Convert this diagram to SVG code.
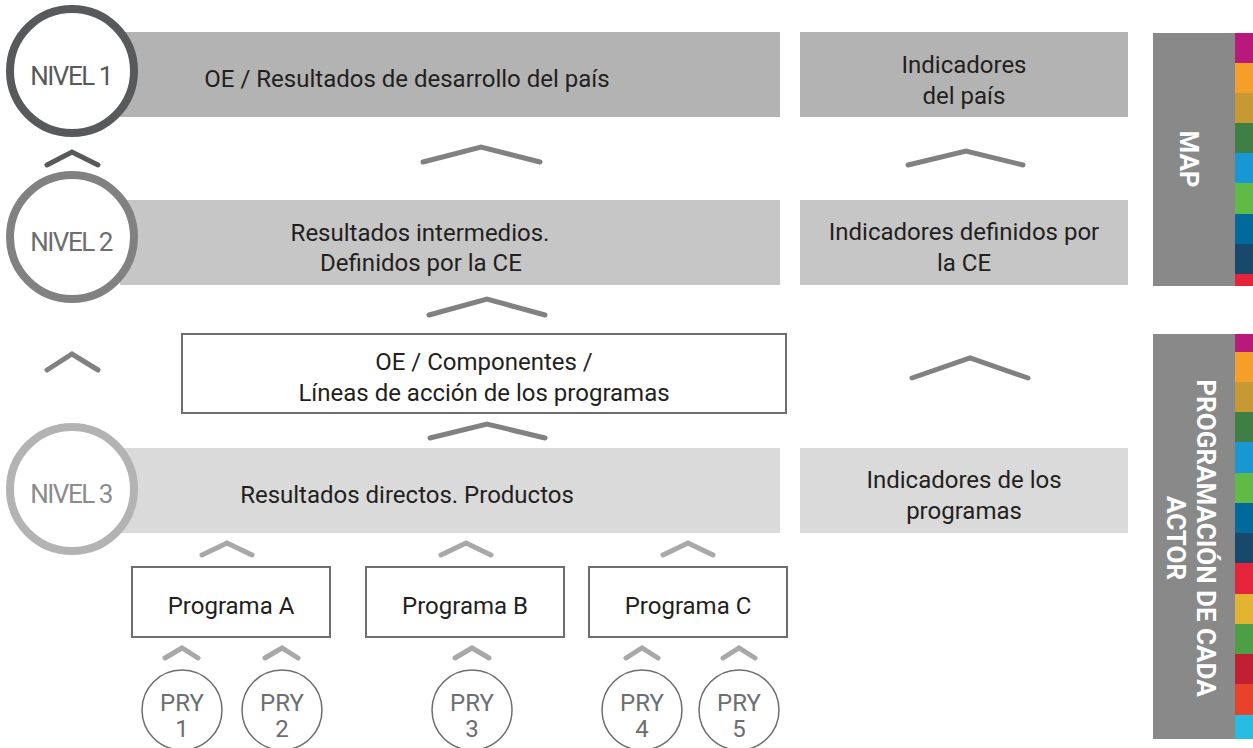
<svg xmlns="http://www.w3.org/2000/svg" width="1253" height="748" viewBox="0 0 1253 748">
<style>
.t{font-family:Roboto,"Liberation Sans",sans-serif;font-size:24px;fill:#231f20;text-anchor:middle}
.nv{font-family:Roboto,"Liberation Sans",sans-serif;font-size:26px;text-anchor:middle;letter-spacing:-1.5px}
.pry{font-family:Roboto,"Liberation Sans",sans-serif;font-size:24px;fill:#6d6e71;text-anchor:middle}
.side{font-family:Roboto,"Liberation Sans",sans-serif;font-weight:bold;font-size:26px;fill:#ffffff;text-anchor:middle}
.box{fill:#ffffff;stroke:#6d6e6d;stroke-width:2}
.pc{fill:#ffffff;stroke:#6d6e71;stroke-width:1.5}
.ch{fill:none;stroke-linecap:round;stroke-linejoin:miter;stroke-width:5}
.c1{stroke:#58595b}
.c2{stroke:#808180}
.c3{stroke:#a7a8a7}
</style>

<g id="level1">
  <rect x="120" y="32" width="660" height="85" fill="#b3b3b3"/>
  <text class="t" x="407" y="87">OE / Resultados de desarrollo del país</text>
</g>
<g id="ind1">
  <rect x="800" y="32" width="328" height="85" fill="#b3b3b3"/>
  <text class="t" x="964" y="73">Indicadores</text>
  <text class="t" x="964" y="104">del país</text>
</g>
<g id="level2">
  <rect x="120" y="200" width="660" height="85" fill="#c6c6c6"/>
  <text class="t" x="420" y="241">Resultados intermedios.</text>
  <text class="t" x="421" y="271">Definidos por la CE</text>
</g>
<g id="ind2">
  <rect x="800" y="200" width="328" height="85" fill="#c6c6c6"/>
  <text class="t" x="964" y="240">Indicadores definidos por</text>
  <text class="t" x="964" y="271">la CE</text>
</g>
<g id="componentes">
  <rect class="box" x="182" y="334" width="604" height="79"/>
  <text class="t" x="484" y="370">OE / Componentes /</text>
  <text class="t" x="484" y="401">Líneas de acción de los programas</text>
</g>
<g id="level3">
  <rect x="120" y="448" width="660" height="85" fill="#d9dad9"/>
  <text class="t" x="407" y="503">Resultados directos. Productos</text>
</g>
<g id="ind3">
  <rect x="800" y="448" width="328" height="85" fill="#d9dad9"/>
  <text class="t" x="964" y="488">Indicadores de los</text>
  <text class="t" x="964" y="519">programas</text>
</g>

<g id="nivel1">
  <circle cx="72" cy="71" r="62" fill="#ffffff" stroke="#58595b" stroke-width="8"/>
  <text class="nv" x="71" y="85" fill="#58595b">NIVEL 1</text>
</g>
<g id="nivel2">
  <circle cx="72" cy="237" r="62" fill="#ffffff" stroke="#808180" stroke-width="8"/>
  <text class="nv" x="71" y="251" fill="#6d6e6d">NIVEL 2</text>
</g>
<g id="nivel3">
  <circle cx="72" cy="489" r="62" fill="#ffffff" stroke="#b3b3b3" stroke-width="8"/>
  <text class="nv" x="71" y="503" fill="#8c8c8c">NIVEL 3</text>
</g>

<g id="progA">
  <rect class="box" x="132" y="567" width="198" height="70"/>
  <text class="t" x="231" y="614">Programa A</text>
</g>
<g id="progB">
  <rect class="box" x="366" y="567" width="198" height="70"/>
  <text class="t" x="465" y="614">Programa B</text>
</g>
<g id="progC">
  <rect class="box" x="589" y="567" width="198" height="70"/>
  <text class="t" x="688" y="614">Programa C</text>
</g>

<g id="pry1">
  <circle class="pc" cx="182" cy="710" r="40"/>
  <text class="pry" x="182" y="711">PRY</text>
  <text class="pry" x="182" y="737">1</text>
</g>
<g id="pry2">
  <circle class="pc" cx="282" cy="710" r="40"/>
  <text class="pry" x="282" y="711">PRY</text>
  <text class="pry" x="282" y="737">2</text>
</g>
<g id="pry3">
  <circle class="pc" cx="472" cy="710" r="40"/>
  <text class="pry" x="472" y="711">PRY</text>
  <text class="pry" x="472" y="737">3</text>
</g>
<g id="pry4">
  <circle class="pc" cx="642" cy="710" r="40"/>
  <text class="pry" x="642" y="711">PRY</text>
  <text class="pry" x="642" y="737">4</text>
</g>
<g id="pry5">
  <circle class="pc" cx="739" cy="710" r="40"/>
  <text class="pry" x="739" y="711">PRY</text>
  <text class="pry" x="739" y="737">5</text>
</g>

<g id="map">
  <rect x="1153" y="33" width="82" height="253" fill="#898989"/>
  <text class="side" transform="translate(1180,159) rotate(90)">MAP</text>
  <rect x="1235" y="33" width="18" height="30" fill="#b8197a"/>
  <rect x="1235" y="63" width="18" height="30" fill="#f59e2a"/>
  <rect x="1235" y="93" width="18" height="30" fill="#c69932"/>
  <rect x="1235" y="123" width="18" height="30" fill="#3f7e44"/>
  <rect x="1235" y="153" width="18" height="30" fill="#1798d4"/>
  <rect x="1235" y="183" width="18" height="31" fill="#5fba46"/>
  <rect x="1235" y="214" width="18" height="30" fill="#02699c"/>
  <rect x="1235" y="244" width="18" height="30" fill="#18486b"/>
  <rect x="1235" y="274" width="18" height="12" fill="#e5243b"/>
</g>

<g id="programacion">
  <rect x="1153" y="334" width="82" height="405" fill="#898989"/>
  <text class="side" transform="translate(1197,538) rotate(90)">PROGRAMACIÓN DE CADA</text>
  <text class="side" transform="translate(1167,538) rotate(90)">ACTOR</text>
  <rect x="1235" y="334" width="18" height="18" fill="#b8197a"/>
  <rect x="1235" y="352" width="18" height="30" fill="#f59e2a"/>
  <rect x="1235" y="382" width="18" height="30" fill="#c69932"/>
  <rect x="1235" y="412" width="18" height="30" fill="#3f7e44"/>
  <rect x="1235" y="442" width="18" height="31" fill="#1798d4"/>
  <rect x="1235" y="473" width="18" height="30" fill="#5fba46"/>
  <rect x="1235" y="503" width="18" height="30" fill="#02699c"/>
  <rect x="1235" y="533" width="18" height="30" fill="#18486b"/>
  <rect x="1235" y="563" width="18" height="31" fill="#e5243b"/>
  <rect x="1235" y="594" width="18" height="30" fill="#e3b431"/>
  <rect x="1235" y="624" width="18" height="30" fill="#4c9f45"/>
  <rect x="1235" y="654" width="18" height="30" fill="#c21f32"/>
  <rect x="1235" y="684" width="18" height="31" fill="#ea422a"/>
  <rect x="1235" y="715" width="18" height="24" fill="#26bde2"/>
</g>

<g id="connectors">
  <polyline class="ch c1" points="47,165 72,152 98,165"/>
  <polyline class="ch c2" points="423,162 481,147 540,162"/>
  <polyline class="ch c2" points="908,165 966,151 1023,165"/>
  <polyline class="ch c2" points="429,315 487,299 545,315"/>
  <polyline class="ch c2" points="912,378 970,358 1028,378"/>
  <polyline class="ch c2" points="47,370 72,354 98,370"/>
  <polyline class="ch c2" points="430,438 487,424 545,438"/>
  <polyline class="ch c3" points="202,555 227,543 252,555"/>
  <polyline class="ch c3" points="441,555 466,543 491,555"/>
  <polyline class="ch c3" points="663,555 688,543 713,555"/>
  <polyline class="ch c3" points="165,658 182,648 198,658"/>
  <polyline class="ch c3" points="265,658 282,648 298,658"/>
  <polyline class="ch c3" points="455,658 472,648 489,658"/>
  <polyline class="ch c3" points="626,658 642,648 658,658"/>
  <polyline class="ch c3" points="723,658 739,648 755,658"/>
</g>
</svg>
